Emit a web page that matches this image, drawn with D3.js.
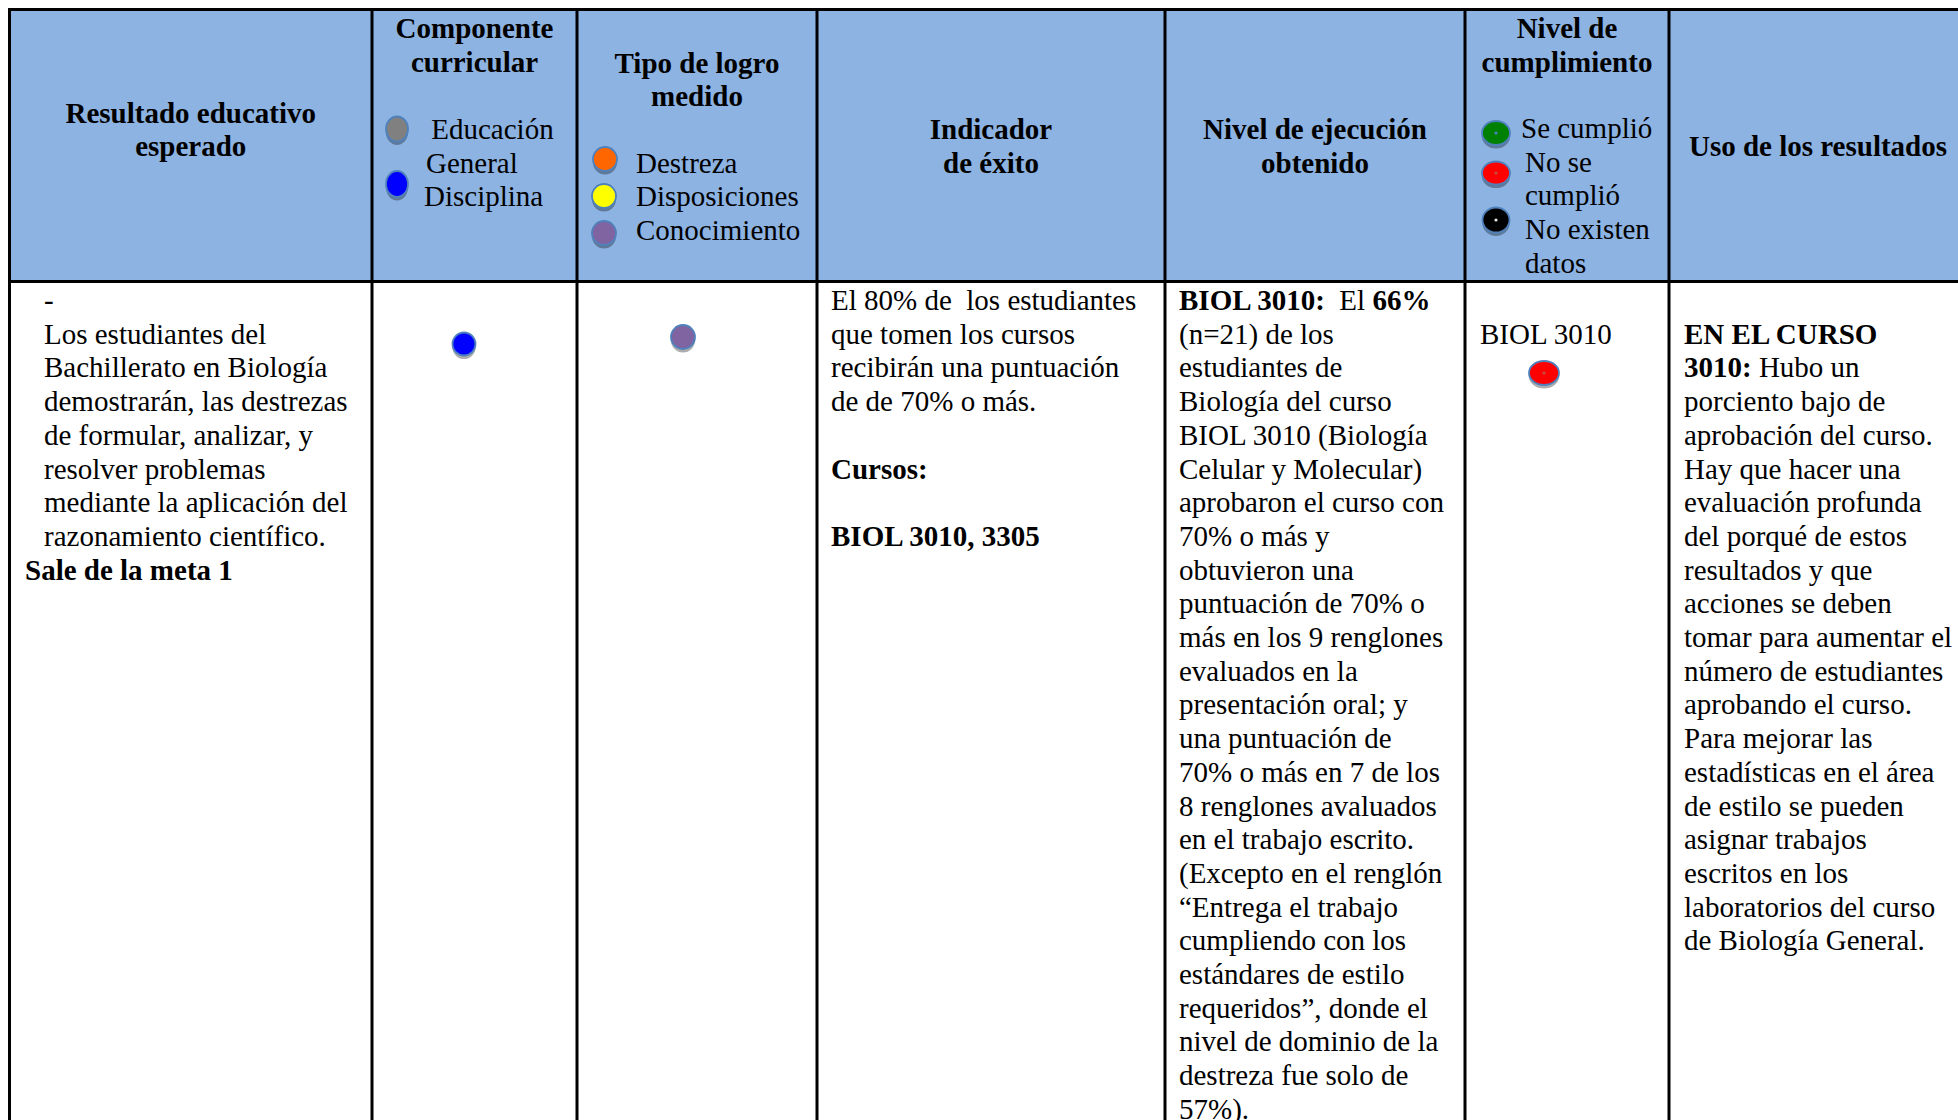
<!DOCTYPE html>
<html>
<head>
<meta charset="utf-8">
<script src="https://cdn.jsdelivr.net/npm/d3@7/dist/d3.min.js"></script>
<style>
  html, body { margin: 0; padding: 0; background: #fff; overflow: hidden; }
  svg text { font-family: "Liberation Serif", "Times New Roman", serif; white-space: pre; fill: #000; }
</style>
</head>
<body>
<svg id="chart" width="1958" height="1120"></svg>
<script>
// ---------------- DATA ----------------
const columns = ["resultado", "componente", "tipo", "indicador", "ejecucion", "cumplimiento", "uso"];

const headerLines = [
  ["Resultado educativo", "esperado"],
  ["Componente", "curricular"],
  ["Tipo de logro", "medido"],
  ["Indicador", "de éxito"],
  ["Nivel de ejecución", "obtenido"],
  ["Nivel de", "cumplimiento"],
  ["Uso de los resultados"]
];

const componenteCategories = ["Educación General", "Disciplina"];
const componenteLegendLines = [[" Educación", "General"], ["Disciplina"]];

const tipoCategories = ["Destreza", "Disposiciones", "Conocimiento"];

const cumplimientoCategories = ["Se cumplió", "No se cumplió", "No existen datos"];
const cumplimientoLegendLines = [["Se cumplió"], ["No se", "cumplió"], ["No existen", "datos"]];

// row values
const rowComponente = ["Disciplina"];
const rowTipo = ["Conocimiento"];
const rowCursos = ["BIOL 3010"];
const rowCumplimiento = ["No se cumplió"];

// cell texts: each line is a list of [text, bold] segments, null = blank line
const resultadoText = [
  [["-", false]],
  [["Los estudiantes del", false]],
  [["Bachillerato en Biología", false]],
  [["demostrarán, las destrezas", false]],
  [["de formular, analizar, y", false]],
  [["resolver problemas", false]],
  [["mediante la aplicación del", false]],
  [["razonamiento científico.", false]],
  [["Sale de la meta 1", true]]
];

const indicadorText = [
  [["El 80% de  los estudiantes", false]],
  [["que tomen los cursos", false]],
  [["recibirán una puntuación", false]],
  [["de de 70% o más.", false]],
  null,
  [["Cursos:", true]],
  null,
  [["BIOL 3010, 3305", true]]
];

const ejecucionText = [
  [["BIOL 3010:", true], ["  El ", false], ["66%", true]],
  [["(n=21) de los", false]],
  [["estudiantes de", false]],
  [["Biología del curso", false]],
  [["BIOL 3010 (Biología", false]],
  [["Celular y Molecular)", false]],
  [["aprobaron el curso con", false]],
  [["70% o más y", false]],
  [["obtuvieron una", false]],
  [["puntuación de 70% o", false]],
  [["más en los 9 renglones", false]],
  [["evaluados en la", false]],
  [["presentación oral; y", false]],
  [["una puntuación de", false]],
  [["70% o más en 7 de los", false]],
  [["8 renglones avaluados", false]],
  [["en el trabajo escrito.", false]],
  [["(Excepto en el renglón", false]],
  [["“Entrega el trabajo", false]],
  [["cumpliendo con los", false]],
  [["estándares de estilo", false]],
  [["requeridos”, donde el", false]],
  [["nivel de dominio de la", false]],
  [["destreza fue solo de", false]],
  [["57%).", false]]
];

const usoText = [
  null,
  [["EN EL CURSO", true]],
  [["3010:", true], [" Hubo un", false]],
  [["porciento bajo de", false]],
  [["aprobación del curso.", false]],
  [["Hay que hacer una", false]],
  [["evaluación profunda", false]],
  [["del porqué de estos", false]],
  [["resultados y que", false]],
  [["acciones se deben", false]],
  [["tomar para aumentar el", false]],
  [["número de estudiantes", false]],
  [["aprobando el curso.", false]],
  [["Para mejorar las", false]],
  [["estadísticas en el área", false]],
  [["de estilo se pueden", false]],
  [["asignar trabajos", false]],
  [["escritos en los", false]],
  [["laboratorios del curso", false]],
  [["de Biología General.", false]]
];

// ---------------- LAYOUT ----------------
const W = 1958, H = 1120;
const FS = 29;
const colEdges = [9.5, 372, 577, 817, 1165, 1465, 1669, 1967];
const tableTop = 9.5, headerBottom = 281.5, tableBottom = 1200;

const xLeft = d3.scaleOrdinal().domain(columns).range(colEdges.slice(0, 7));
const xRight = d3.scaleOrdinal().domain(columns).range(colEdges.slice(1));
const xCenter = c => (xLeft(c) + xRight(c)) / 2;

// body line baselines
const lineY = d3.scaleLinear().domain([0, 1]).range([310, 343.7]);

const colorComponente = d3.scaleOrdinal().domain(componenteCategories).range(["#808080", "#0000ff"]);
const colorTipo = d3.scaleOrdinal().domain(tipoCategories).range(["#ff6600", "#ffff00", "#8064a2"]);
const colorCumpl = d3.scaleOrdinal().domain(cumplimientoCategories).range(["#008000", "#ff0000", "#000000"]);
const dotCumpl = d3.scaleOrdinal().domain(cumplimientoCategories).range(["#4f81bd", "#c0504d", "#e6e6e6"]);

const svg = d3.select("#chart");

// header background
svg.append("rect")
  .attr("x", colEdges[0]).attr("y", tableTop)
  .attr("width", colEdges[7] - colEdges[0]).attr("height", headerBottom - tableTop)
  .attr("fill", "#8db3e2");

// grid lines
const grid = svg.append("g").attr("stroke", "#000").attr("stroke-width", 3);
grid.selectAll("line.v").data(colEdges).join("line")
  .attr("class", "v")
  .attr("x1", d => d).attr("x2", d => d)
  .attr("y1", tableTop - 1.5).attr("y2", tableBottom);
grid.selectAll("line.h").data([tableTop, headerBottom]).join("line")
  .attr("class", "h")
  .attr("x1", colEdges[0] - 1.5).attr("x2", colEdges[7] + 1.5)
  .attr("y1", d => d).attr("y2", d => d);

// ---------------- HEADER TEXT ----------------
const headerBaselines = [
  [122.5, 156],
  [37.5, 71.5],
  [72.5, 106],
  [138.5, 172.5],
  [138.5, 172.5],
  [37.5, 71.5],
  [155.5]
];
const hdr = svg.append("g").attr("font-weight", "bold").attr("font-size", FS).attr("text-anchor", "middle");
columns.forEach((c, i) => {
  hdr.selectAll(null).data(headerLines[i]).join("text")
    .attr("x", xCenter(c))
    .attr("y", (d, j) => headerBaselines[i][j])
    .text(d => d);
});

// marker helper
function marker(g, cx, cy, rx, ry, fill, dot) {
  g.append("ellipse").attr("cx", cx).attr("cy", cy + 3.5).attr("rx", rx).attr("ry", ry)
    .attr("fill", "rgba(0,0,0,0.32)");
  g.append("ellipse").attr("cx", cx).attr("cy", cy).attr("rx", rx).attr("ry", ry)
    .attr("fill", fill).attr("stroke", "#4f81bd").attr("stroke-width", 1.8);
  if (dot) g.append("circle").attr("cx", cx).attr("cy", cy).attr("r", 1.6).attr("fill", dot);
}

const legend = svg.append("g").attr("font-size", FS);

// componente legend
const compMarkers = [[397, 129, 11, 12.5], [397, 184, 11, 13]];
const compText = [[[431, 138.5], [426, 172.5]], [[424, 205.5]]];
componenteCategories.forEach((cat, i) => {
  const m = compMarkers[i];
  marker(legend, m[0], m[1], m[2], m[3], colorComponente(cat));
  componenteLegendLines[i].forEach((t, j) => {
    legend.append("text").attr("x", compText[i][j][0] - (j === 0 && i === 0 ? 7 : 0)).attr("y", compText[i][j][1]).text(t);
  });
});

// tipo legend
const tipoMarkers = [[605, 159, 12, 12], [604, 196, 12, 12], [604, 233, 12, 12]];
const tipoBase = [172.5, 205.5, 239.5];
tipoCategories.forEach((cat, i) => {
  const m = tipoMarkers[i];
  marker(legend, m[0], m[1], m[2], m[3], colorTipo(cat));
  legend.append("text").attr("x", 636).attr("y", tipoBase[i]).text(cat);
});

// cumplimiento legend
const cumMarkers = [[1496, 133, 14, 12], [1496, 173, 14, 11.5], [1496, 220, 13.5, 12.5]];
const cumText = [[[1521, 137.5]], [[1525, 171.5], [1525, 204.5]], [[1525, 238.5], [1525, 272.5]]];
cumplimientoCategories.forEach((cat, i) => {
  const m = cumMarkers[i];
  marker(legend, m[0], m[1], m[2], m[3], colorCumpl(cat), dotCumpl(cat));
  cumplimientoLegendLines[i].forEach((t, j) => {
    legend.append("text").attr("x", cumText[i][j][0]).attr("y", cumText[i][j][1]).text(t);
  });
});

// ---------------- BODY ----------------
function drawLines(lines, x, xOverride) {
  const g = svg.append("g").attr("font-size", FS);
  lines.forEach((line, i) => {
    if (!line) return;
    const t = g.append("text").attr("x", xOverride ? xOverride(i, line) : x).attr("y", lineY(i));
    line.forEach(seg => {
      t.append("tspan").attr("font-weight", seg[1] ? "bold" : "normal").text(seg[0]);
    });
  });
}

drawLines(resultadoText, 44, (i, line) => (line[0][1] ? 25 : 44));
drawLines(indicadorText, 831);
drawLines(ejecucionText, 1179);
drawLines(usoText, 1684);

// componente / tipo markers in body row
const body = svg.append("g");
rowComponente.forEach(c => marker(body, 464, 344, 11.5, 11.5, colorComponente(c)));
rowTipo.forEach(c => marker(body, 683, 337, 12, 12, colorTipo(c)));

// cumplimiento cell
rowCursos.forEach((c, i) => {
  body.append("text").attr("font-size", FS).attr("x", 1480).attr("y", lineY(1 + i * 2)).text(c);
  marker(body, 1544, 373, 15, 12, colorCumpl(rowCumplimiento[i]), "#c0504d");
});
</script>
</body>
</html>
